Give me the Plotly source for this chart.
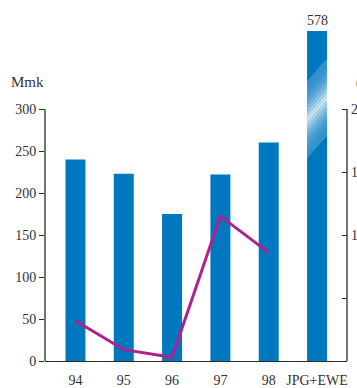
import plotly.graph_objects as go

categories = ["94", "95", "96", "97", "98", "JPG+EWE"]
bar_values = [240, 223, 175, 222, 260, 578]
line_categories = ["94", "95", "96", "97", "98"]
line_values = [3.2, 0.9, 0.3, 11.5, 8.6]
left_ticks = [0, 50, 100, 150, 200, 250, 300]
right_ticks = [5, 10, 15, 20]

BAR_CAP = 393          # broken bar is drawn up to this height
Y_MAX = 400
Y2_MAX = Y_MAX * 20 / 300
BLUE = "#0078C0"
MAGENTA = "#AD2190"
AX = "#2b2b2b"
FONT = "Liberation Serif"
TXT = "#333333"

shown = [min(v, BAR_CAP) for v in bar_values]

fig = go.Figure()
fig.add_trace(go.Bar(x=categories, y=shown, marker=dict(color=BLUE, line=dict(width=0)),
                     hoverinfo="skip", showlegend=False))
fig.add_trace(go.Scatter(x=line_categories, y=line_values, yaxis="y2", mode="lines",
                         line=dict(color=MAGENTA, width=3), showlegend=False))

# value label of broken bar
bi = len(categories) - 1
annotations = [dict(x=categories[bi], y=shown[bi], xref="x", yref="y", text=str(bar_values[bi]),
                    showarrow=False, yanchor="bottom", yshift=1,
                    font=dict(family=FONT, size=14, color=TXT))]
annotations.append(dict(x=-0.118, y=332, xref="paper", yref="y", text="Mmk", showarrow=False,
                        xanchor="left", yanchor="middle", font=dict(family=FONT, size=15, color=TXT)))
# right axis labels (right aligned, partly cut off)
for t in right_ticks:
    annotations.append(dict(x=1.066, y=t, xref="paper", yref="y2", text=str(t), showarrow=False,
                            xanchor="right", yanchor="middle", font=dict(family=FONT, size=14, color=TXT)))
annotations.append(dict(x=1.022, y=22.1, xref="paper", yref="y2", text="(%)",
                        showarrow=False, xanchor="left", yanchor="middle",
                        font=dict(family=FONT, size=14, color=TXT)))

shapes = [
    dict(type="line", xref="paper", yref="y", x0=0, x1=0, y0=0, y1=left_ticks[-1],
         line=dict(color=AX, width=1.3)),
    dict(type="line", xref="paper", yref="y2", x0=1, x1=1, y0=0, y1=right_ticks[-1],
         line=dict(color=AX, width=1.3)),
]

# break band on the broken bar: gradient of white parallelograms
bar_w = 0.414
xl, xr = bi - bar_w / 2, bi + bar_w / 2
center_left = 287
half = 46
rise = 27
n = 40
for k in range(n):
    a0 = -1 + 2 * k / n
    a1 = -1 + 2 * (k + 1) / n
    mid = (a0 + a1) / 2
    op = 0.22 + 0.78 * max(0.0, 1 - abs(mid)) ** 2.2
    if k % 2 == 0:
        op *= 0.8
    y0l = center_left + a0 * half
    y1l = center_left + a1 * half
    path = (f"M {xl},{y0l} L {xr},{y0l + rise} L {xr},{y1l + rise} L {xl},{y1l} Z")
    shapes.append(dict(type="path", xref="x", yref="y", path=path,
                       fillcolor=f"rgba(255,255,255,{op:.3f})", line=dict(width=0), layer="above"))

fig.update_layout(
    width=357, height=388,
    margin=dict(l=45, r=10, t=25, b=27, autoexpand=False),
    paper_bgcolor="white", plot_bgcolor="white",
    bargap=1 - bar_w,
    xaxis=dict(type="category", range=[-0.63, 5.62], showline=True, linecolor=AX, linewidth=1.3,
               showgrid=False, ticks="", ticklabelstandoff=6, automargin=False,
               tickfont=dict(family=FONT, size=14, color=TXT), fixedrange=True),
    yaxis=dict(range=[0, Y_MAX], tickvals=left_ticks, automargin=False,
               ticks="outside", ticklen=5, tickcolor=AX, tickwidth=1.3, showline=False,
               showgrid=False, zeroline=False, tickfont=dict(family=FONT, size=14, color=TXT)),
    yaxis2=dict(range=[0, Y2_MAX], overlaying="y", side="right", tickvals=right_ticks,
                ticks="inside", ticklen=5, tickcolor=AX, tickwidth=1.3, showticklabels=False,
                automargin=False, showline=False, showgrid=False, zeroline=False),
    annotations=annotations, shapes=shapes,
)
fig.write_html("out.html", config={"displayModeBar": False},
               post_script="document.body.style.margin='0px';")
